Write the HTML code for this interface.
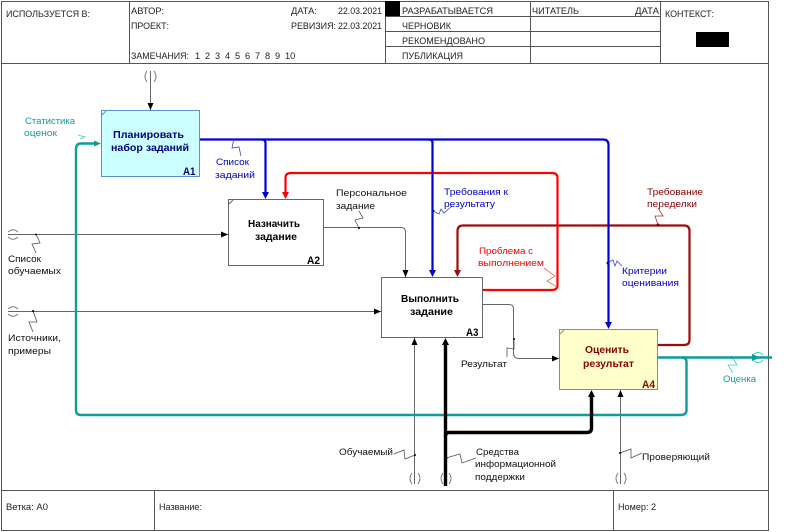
<!DOCTYPE html>
<html><head><meta charset="utf-8"><style>
html,body{margin:0;padding:0;background:#fff;width:799px;height:532px;overflow:hidden}
svg{display:block}
text{font-family:"Liberation Sans",sans-serif;font-size:9.5px;fill:#111}
.h{fill:#222;font-size:9.2px}
.b{font-weight:bold;font-size:10.5px}
.n{font-weight:bold;font-size:11px}
.thin{fill:none;stroke:#666;stroke-width:1}
.z{fill:none;stroke-width:.8}
</style></head><body>
<svg width="799" height="532" viewBox="0 0 799 532" xmlns="http://www.w3.org/2000/svg" lengthAdjust="spacingAndGlyphs">
<defs>
<marker id="k" markerUnits="userSpaceOnUse" markerWidth="8" markerHeight="8" refX="7" refY="4" orient="auto"><path d="M0,1L7,4L0,7z" fill="#000"/></marker>
</defs>
<!-- frame -->
<g fill="none" stroke="#555" stroke-width="1">
<rect x="1.500" y="1.500" width="767" height="529"/>
<path d="M1.500 63.500H768.500M1.500 490.500H768.500M129.500 1V63M385.500 1V63M530.500 1V63M660.500 1V63M154.500 490V531M613.500 490V531M385 16.500H660M385 31.500H660M385 46.500H660"/>
</g>
<rect x="385" y="1" width="15" height="15" fill="#000"/>
<rect x="696" y="32" width="33" height="15" fill="#000"/>
<g>
<text class="h" x="6" y="17" textLength="84" lengthAdjust="spacingAndGlyphs">ИСПОЛЬЗУЕТСЯ В:</text>
<text class="h" x="131" y="14" textLength="33" lengthAdjust="spacingAndGlyphs">АВТОР:</text>
<text class="h" x="131" y="29" textLength="38" lengthAdjust="spacingAndGlyphs">ПРОЕКТ:</text>
<text class="h" x="131" y="59" textLength="58" lengthAdjust="spacingAndGlyphs">ЗАМЕЧАНИЯ:</text>
<text class="h" x="195" y="59">1</text><text class="h" x="205" y="59">2</text><text class="h" x="215" y="59">3</text><text class="h" x="225" y="59">4</text><text class="h" x="235" y="59">5</text><text class="h" x="245" y="59">6</text><text class="h" x="255" y="59">7</text><text class="h" x="265" y="59">8</text><text class="h" x="275" y="59">9</text><text class="h" x="285" y="59">10</text>
<text class="h" x="291" y="14" textLength="26" lengthAdjust="spacingAndGlyphs">ДАТА:</text>
<text class="h" x="338" y="14" textLength="44" lengthAdjust="spacingAndGlyphs">22.03.2021</text>
<text class="h" x="291" y="29" textLength="45" lengthAdjust="spacingAndGlyphs">РЕВИЗИЯ:</text>
<text class="h" x="338" y="29" textLength="44" lengthAdjust="spacingAndGlyphs">22.03.2021</text>
<text class="h" x="402" y="14" textLength="91" lengthAdjust="spacingAndGlyphs">РАЗРАБАТЫВАЕТСЯ</text>
<text class="h" x="402" y="29" textLength="49" lengthAdjust="spacingAndGlyphs">ЧЕРНОВИК</text>
<text class="h" x="402" y="44" textLength="83" lengthAdjust="spacingAndGlyphs">РЕКОМЕНДОВАНО</text>
<text class="h" x="402" y="59" textLength="61" lengthAdjust="spacingAndGlyphs">ПУБЛИКАЦИЯ</text>
<text class="h" x="532" y="14" textLength="47" lengthAdjust="spacingAndGlyphs">ЧИТАТЕЛЬ</text>
<text class="h" x="635" y="14" textLength="24" lengthAdjust="spacingAndGlyphs">ДАТА</text>
<text class="h" x="665" y="17" textLength="49" lengthAdjust="spacingAndGlyphs">КОНТЕКСТ:</text>
<text class="h" x="6" y="510" style="font-size:9px" textLength="42" lengthAdjust="spacingAndGlyphs">Ветка:  A0</text>
<text class="h" x="159" y="510" style="font-size:9px" textLength="43" lengthAdjust="spacingAndGlyphs">Название:</text>
<text class="h" x="618" y="510" style="font-size:9px" textLength="38" lengthAdjust="spacingAndGlyphs">Номер: 2</text>
</g>
<!-- thin arrows -->
<g class="thin">
<path d="M150.500 71V110" marker-end="url(#k)"/>
<path d="M8 234.500H228" marker-end="url(#k)"/>
<path d="M8 311.500H381" marker-end="url(#k)"/>
<path d="M323 227.500H401Q405.500 227.500 405.500 232V277" marker-end="url(#k)"/>
<path d="M482 304.500H509Q513.500 304.500 513.500 309V353Q513.500 358.500 519 358.500H559" marker-end="url(#k)"/>
<path d="M414.500 484V338" marker-end="url(#k)"/>
<path d="M620.500 484V390" marker-end="url(#k)"/>
</g>
<!-- teal -->
<g fill="none" stroke="#0e9c9c" stroke-width="2.400">
<path d="M657 357.500H772"/>
<path d="M682 357.500Q686.500 357.500 686.500 362V410Q686.500 415 681 415H81Q76 415 76 410V149Q76 143.500 81 143.500H96"/>
</g>
<path d="M94 140.500L101 143.500L94 146.500z" fill="#0e9c9c"/>
<path d="M752 354L760 357.500L752 361z" fill="#0e9c9c"/>
<!-- black thick -->
<g fill="none" stroke="#000" stroke-width="3.400">
<path d="M445.500 486V344"/>
<path d="M445.500 436Q445.500 432.500 449 432.500H587Q591.500 432.500 591.500 428V396"/>
</g>
<path d="M442 345L445.500 338L449 345z" fill="#000"/>
<path d="M588 397L591.500 390L595 397z" fill="#000"/>
<!-- dark red -->
<g fill="none" stroke="#9c0c0c" stroke-width="2.200">
<path d="M657 345H684Q689.500 345 689.500 340V231Q689.500 225.500 684 225.500H463Q457.500 225.500 457.500 231V272"/>
</g>
<path d="M454 270L457.500 277L461 270z" fill="#9c0c0c"/>
<!-- red -->
<g fill="none" stroke="#f00" stroke-width="2.200">
<path d="M482 290H552Q557.500 290 557.500 285V178Q557.500 173 552 173H291Q285.500 173 285.500 178V194"/>
</g>
<path d="M282 192L285.500 199L289 192z" fill="#f00"/>
<!-- blue -->
<g fill="none" stroke="#0000d8" stroke-width="2.200">
<path d="M199 139.500H603Q608.500 139.500 608.500 145V322"/>
<path d="M262 139.500Q265.500 139.500 265.500 143V194"/>
<path d="M429 139.500Q432.500 139.500 432.500 143V272"/>
</g>
<path d="M262 192L265.500 199L269 192z" fill="#0000d8"/>
<path d="M429 270L432.500 277L436 270z" fill="#0000d8"/>
<path d="M605 322L608.500 329L612 322z" fill="#0000d8"/>
<!-- boxes -->
<rect x="101.500" y="110.500" width="98" height="66" fill="#ccffff" stroke="#5b8fd0"/>
<path d="M102 115L106 111" stroke="#5b8fd0" fill="none"/>
<rect x="228.500" y="199.500" width="95" height="66" fill="#fff" stroke="#666"/>
<path d="M229 204L233 200" stroke="#666" fill="none"/>
<rect x="381.500" y="277.500" width="101" height="60" fill="#fff" stroke="#666"/>
<rect x="559.500" y="329.500" width="98" height="60" fill="#ffffcc" stroke="#c07a60"/>
<path d="M560 334L564 330" stroke="#c07a60" fill="none"/>
<text class="b" x="113" y="138" textLength="71" lengthAdjust="spacingAndGlyphs" style="fill:#000080">Планировать</text>
<text class="b" x="111" y="151" textLength="78" lengthAdjust="spacingAndGlyphs" style="fill:#000080">набор заданий</text>
<text class="n" x="183" y="175" textLength="12.500" lengthAdjust="spacingAndGlyphs" style="fill:#000080">A1</text>
<text class="b" x="248" y="227" textLength="52" lengthAdjust="spacingAndGlyphs" style="fill:#000">Назначить</text>
<text class="b" x="255" y="240" textLength="42" lengthAdjust="spacingAndGlyphs" style="fill:#000">задание</text>
<text class="n" x="307" y="264" textLength="13" lengthAdjust="spacingAndGlyphs" style="fill:#000">A2</text>
<text class="b" x="401" y="302" textLength="58" lengthAdjust="spacingAndGlyphs" style="fill:#000">Выполнить</text>
<text class="b" x="410" y="315" textLength="43" lengthAdjust="spacingAndGlyphs" style="fill:#000">задание</text>
<text class="n" x="466" y="336" textLength="12.500" lengthAdjust="spacingAndGlyphs" style="fill:#000">A3</text>
<text class="b" x="585" y="353" textLength="44" lengthAdjust="spacingAndGlyphs" style="fill:#8b0000">Оценить</text>
<text class="b" x="583" y="367" textLength="51" lengthAdjust="spacingAndGlyphs" style="fill:#8b0000">результат</text>
<text class="n" x="642" y="388" textLength="13" lengthAdjust="spacingAndGlyphs" style="fill:#8b0000">A4</text>
<!-- tunnels -->
<g fill="none" stroke="#777" stroke-width=".9">
<path d="M147 71Q143 76.500 147 82M154 71Q158 76.500 154 82"/>
<path d="M8 232Q13 227.500 18 232M8 237Q13 241.500 18 237"/>
<path d="M8 309Q13 304.500 18 309M8 314Q13 318.500 18 314"/>
<path d="M412 473Q408 478.500 412 484M418 473Q422 478.500 418 484"/>
<path d="M443 473Q439 478.500 443 484M449 473Q453 478.500 449 484"/>
<path d="M618 473Q614 478.500 618 484M624 473Q628 478.500 624 484"/>
</g>
<path d="M753 355Q758 350 763 355M753 360Q758 365 763 360" fill="none" stroke="#4cc" stroke-width=".9"/>
<!-- squiggles -->
<g class="z">
<path d="M234 138L232 148L239 147L241 156" stroke="#44c"/>
<path d="M36 234L40 243L32 244L36 253" stroke="#555"/>
<path d="M33 311L37 322L29 322L33 332" stroke="#555"/>
<path d="M359 228L355 220L363 218L359 211" stroke="#555"/>
<path d="M433 211L439 214L441 209L444 213L452 206" stroke="#44c"/>
<path d="M544 268L555 276L547 281L557 287" stroke="#e66"/>
<path d="M607 263L613 260L615 266L617 261L622 266" stroke="#44c"/>
<path d="M658 225L655 216L663 216L658 208" stroke="#a33"/>
<path d="M514 339L514 349L507 348L507 357" stroke="#555"/>
<path d="M394 454L404 450L405 459L415 455" stroke="#555"/>
<path d="M446 458L460 454L462 463L476 458" stroke="#555"/>
<path d="M620 453L631 449L631 458L642 453" stroke="#555"/>
<path d="M732 357L737 365L728 365L733 373" stroke="#4cc"/>
<path d="M80 139L85 137L78 135" stroke="#4cc"/>
</g>
<!-- junction dots -->
<g fill="#000">
<circle cx="36" cy="234.500" r="1"/><circle cx="33" cy="311" r="1"/><circle cx="359" cy="228" r="1"/>
<circle cx="514" cy="339" r="1"/><circle cx="415" cy="455" r="1"/><circle cx="446" cy="458" r="1.500"/><circle cx="620" cy="453" r="1"/>
</g>
<circle cx="433" cy="211" r="1.500" fill="#00c"/><circle cx="608" cy="263" r="1.500" fill="#00c"/><circle cx="658" cy="225" r="1.500" fill="#800"/>
<circle cx="732" cy="357.500" r="1.500" fill="#0a8"/>
<!-- labels -->
<text x="25" y="124" textLength="50" lengthAdjust="spacingAndGlyphs" style="fill:#0e9c9c">Статистика</text><text x="24" y="136" textLength="33" lengthAdjust="spacingAndGlyphs" style="fill:#0e9c9c">оценок</text><text x="723" y="382" textLength="33" lengthAdjust="spacingAndGlyphs" style="fill:#0e9c9c">Оценка</text>
<text x="216" y="165" textLength="33" lengthAdjust="spacingAndGlyphs" style="fill:#00c">Список</text><text x="215" y="178" textLength="40" lengthAdjust="spacingAndGlyphs" style="fill:#00c">заданий</text>
<text x="444" y="195" textLength="64" lengthAdjust="spacingAndGlyphs" style="fill:#00c">Требования к</text><text x="444" y="207" textLength="51" lengthAdjust="spacingAndGlyphs" style="fill:#00c">результату</text>
<text x="622" y="274" textLength="45" lengthAdjust="spacingAndGlyphs" style="fill:#00c">Критерии</text><text x="622" y="286" textLength="57" lengthAdjust="spacingAndGlyphs" style="fill:#00c">оценивания</text>
<text x="479" y="254" textLength="54" lengthAdjust="spacingAndGlyphs" style="fill:#f00">Проблема с</text><text x="478" y="266" textLength="66" lengthAdjust="spacingAndGlyphs" style="fill:#f00">выполнением</text>
<text x="647" y="195" textLength="56" lengthAdjust="spacingAndGlyphs" style="fill:#8b0000">Требование</text><text x="647" y="207" textLength="50" lengthAdjust="spacingAndGlyphs" style="fill:#8b0000">переделки</text>
<text x="336" y="196" textLength="71" lengthAdjust="spacingAndGlyphs">Персональное</text><text x="336" y="209" textLength="39" lengthAdjust="spacingAndGlyphs">задание</text>
<text x="8" y="262" textLength="33" lengthAdjust="spacingAndGlyphs">Список</text><text x="8" y="274" textLength="53" lengthAdjust="spacingAndGlyphs">обучаемых</text>
<text x="8" y="341" textLength="53" lengthAdjust="spacingAndGlyphs">Источники,</text><text x="8" y="354" textLength="43" lengthAdjust="spacingAndGlyphs">примеры</text>
<text x="461" y="367" textLength="46" lengthAdjust="spacingAndGlyphs">Результат</text>
<text x="339" y="455" textLength="54" lengthAdjust="spacingAndGlyphs">Обучаемый</text>
<text x="476" y="455" textLength="43" lengthAdjust="spacingAndGlyphs">Средства</text><text x="475" y="467" textLength="81" lengthAdjust="spacingAndGlyphs">информационной</text><text x="475" y="480" textLength="50" lengthAdjust="spacingAndGlyphs">поддержки</text>
<text x="642" y="460" textLength="68" lengthAdjust="spacingAndGlyphs">Проверяющий</text>
</svg>
</body></html>
